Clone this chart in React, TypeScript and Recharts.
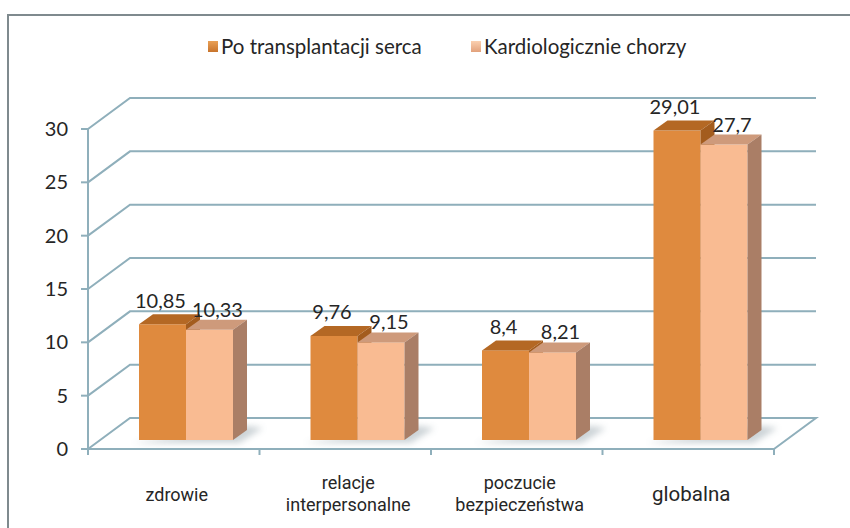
import { Bar, BarChart, CartesianGrid, LabelList, Legend, XAxis, YAxis } from "recharts";

const categories = ["zdrowie", "relacje\ninterpersonalne", "poczucie\nbezpieczeństwa", "globalna"];
const transplant = [10.85, 9.76, 8.4, 29.01];
const cardio = [10.33, 9.15, 8.21, 27.7];
const yTicks = [0, 5, 10, 15, 20, 25, 30];
const seriesNames = ["Po transplantacji serca", "Kardiologicznie chorzy"];

const data = categories.map((name, i) => ({ name, transplant: transplant[i], cardio: cardio[i] }));

// 3d look: walls go back by DEPTH, bars sit a bit inside the floor
const DEPTH_X = 42;
const DEPTH_Y = 31;
const BAR_DX = 12;
const BAR_DY = 9;
const TOP_DX = 14;
const TOP_DY = 10;
const PLOT_W = 686;
const GRID = "#8FAFBB";
const TEXT = "#262626";

const gridLine = (props: any) => {
  const { x1, y1, x2, y, height } = props;
  const floor = Math.abs(y1 - (y + height)) < 1;
  let d = `M${x1},${y1} L${x1 + DEPTH_X},${y1 - DEPTH_Y} L${x2 + DEPTH_X},${y1 - DEPTH_Y}`;
  if (floor) d += ` L${x2},${y1}`;
  return <path key={`g-${y1}`} d={d} fill="none" stroke={GRID} strokeWidth={2} />;
};

const bar3d = (front: string, top: string, side: string, shadow: boolean) => (props: any) => {
  const { x, y, width: w, height: h } = props;
  const fx = x + BAR_DX;
  const fy = y - BAR_DY;
  const by = fy + h;
  return (
    <g>
      {shadow && (
        <polygon
          points={`${fx - 6},${by + 3} ${fx + 2 * w + 6},${by + 3} ${fx + 2 * w + TOP_DX + 16},${by - TOP_DY - 2} ${fx + 2 * w + TOP_DX},${by - TOP_DY - 4}`}
          fill="#8e9ea6"
          opacity={0.45}
          filter="url(#soft)"
        />
      )}
      <rect x={fx} y={fy} width={w} height={h} fill={front} />
      <polygon
        points={`${fx},${fy} ${fx + TOP_DX},${fy - TOP_DY} ${fx + w + TOP_DX},${fy - TOP_DY} ${fx + w},${fy}`}
        fill={top}
      />
      <polygon
        points={`${fx + w},${fy} ${fx + w + TOP_DX},${fy - TOP_DY} ${fx + w + TOP_DX},${by - TOP_DY} ${fx + w},${by}`}
        fill={side}
      />
    </g>
  );
};

const valueLabel = (dx: number, lift: number) => (props: any) => {
  const { x, y, width, value } = props;
  return (
    <text
      x={x + BAR_DX + width / 2 + dx}
      y={y - BAR_DY - lift}
      textAnchor="middle"
      fontFamily="Lato"
      fontSize={20}
      fill={TEXT}
    >
      {String(value).replace(".", ",")}
    </text>
  );
};

const CategoryTick = (props: any) => {
  const { x, y, payload, index } = props;
  const lines = String(payload.value).split("\n");
  const half = PLOT_W / categories.length / 2;
  const last = index === categories.length - 1;
  const size = last ? 20.5 : 18;
  return (
    <g>
      <line x1={x - half} x2={x - half} y1={y} y2={y + 6} stroke={GRID} strokeWidth={2} />
      {last && <line x1={x + half} x2={x + half} y1={y} y2={y + 6} stroke={GRID} strokeWidth={2} />}
      {lines.map((t, i) => (
        <text
          key={t}
          x={x + 3}
          y={y + (lines.length === 1 ? 52 : 40 + i * 22)}
          textAnchor="middle"
          fontFamily="Roboto"
          fontSize={size}
          fill={TEXT}
        >
          {t}
        </text>
      ))}
    </g>
  );
};

const legendLeft = [208, 471];

const legendContent = () => (
  <div style={{ position: "relative", height: 26, fontFamily: "Lato", fontSize: 20.5, color: TEXT }}>
    {seriesNames.map((name, i) => (
      <div
        key={name}
        style={{ position: "absolute", left: legendLeft[i], top: 0, display: "flex", alignItems: "center", gap: 3, whiteSpace: "nowrap" }}
      >
        <span
          style={{
            width: 10,
            height: 11,
            background: i === 0 ? "linear-gradient(#E9A056,#C8742C)" : "linear-gradient(#FBD0B0,#E2A17B)"
          }}
        />
        <span>{name}</span>
      </div>
    ))}
  </div>
);

export default function App() {
  return (
    <div style={{ position: "absolute", left: 0, top: 0, width: 850, height: 528, overflow: "hidden", background: "#fff" }}>
      <div
        style={{
          position: "absolute",
          left: 7,
          top: 14,
          width: 900,
          height: 600,
          border: "2px solid #7F8A8E"
        }}
      />
      <div style={{ position: "absolute", left: 0, top: 0 }}>
        <BarChart
          width={850}
          height={528}
          data={data}
          margin={{ top: 129, right: 76, bottom: 0, left: 28 }}
          barSize={47}
          barGap={0}
        >
          <defs>
            <filter id="soft" x="-50%" y="-50%" width="200%" height="200%">
              <feGaussianBlur stdDeviation="3" />
            </filter>
          </defs>
          <CartesianGrid vertical={false} horizontal={gridLine} />
          <XAxis
            dataKey="name"
            height={79}
            tick={CategoryTick}
            tickLine={false}
            tickSize={0}
            tickMargin={0}
            axisLine={{ stroke: GRID, strokeWidth: 2 }}
            interval={0}
          />
          <YAxis
            width={60}
            domain={[0, 30]}
            ticks={yTicks}
            interval={0}
            tickSize={7}
            tickMargin={13}
            axisLine={{ stroke: GRID, strokeWidth: 2 }}
            tickLine={{ stroke: GRID, strokeWidth: 2 }}
            tick={{ fill: TEXT, fontSize: 20, fontFamily: "Lato" }}
          />
          <Legend
            verticalAlign="middle"
            align="center"
            layout="horizontal"
            wrapperStyle={{ top: 34, left: 0, width: 850 }}
            content={legendContent}
          />
          <Bar
            dataKey="transplant"
            name={seriesNames[0]}
            fill="#DF8A3E"
            isAnimationActive={false}
            shape={bar3d("#DF8A3E", "#B46824", "#A35C1E", true)}
          >
            <LabelList dataKey="transplant" content={valueLabel(-2, 16.5)} />
          </Bar>
          <Bar
            dataKey="cardio"
            name={seriesNames[1]}
            fill="#F9BB92"
            isAnimationActive={false}
            shape={bar3d("#F9BB92", "#CE9A7B", "#AA7E66", false)}
          >
            <LabelList dataKey="cardio" content={valueLabel(8, 13)} />
          </Bar>
        </BarChart>
      </div>
    </div>
  );
}
